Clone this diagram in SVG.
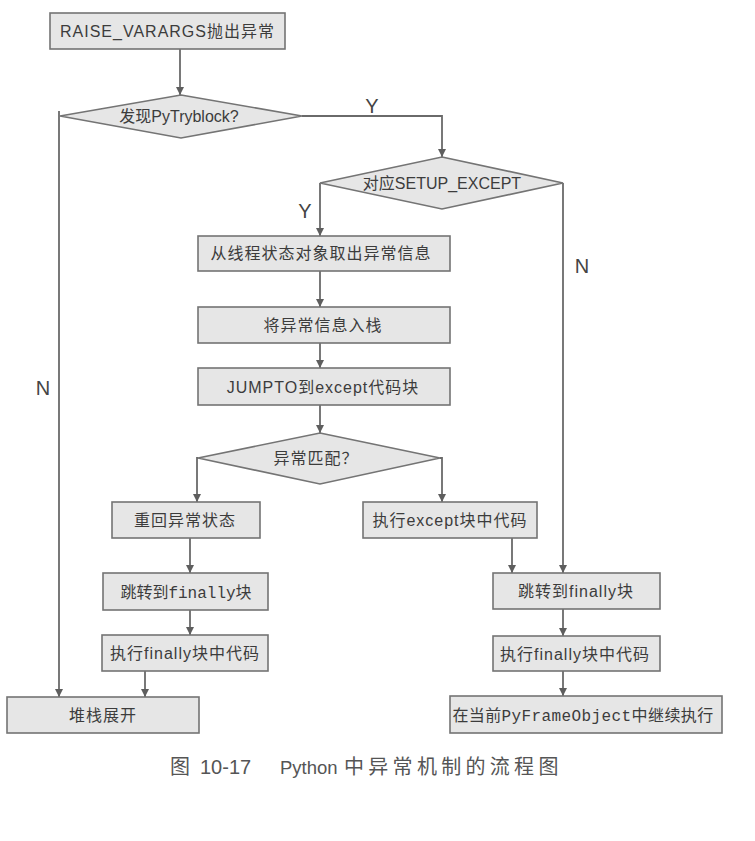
<svg xmlns="http://www.w3.org/2000/svg" width="755" height="841" viewBox="0 0 755 841">
<defs>
<style>
.box{fill:#e6e6e6;stroke:#747474;stroke-width:1.6}
.t{font-family:"Liberation Sans","Noto Sans CJK SC",sans-serif;font-size:16px;fill:#3c3c3c;text-anchor:middle;letter-spacing:1px}
.m{font-family:"Liberation Mono","Noto Sans CJK SC",monospace}
.lbl{font-family:"Liberation Sans",sans-serif;font-size:20px;fill:#444;text-anchor:middle}
.cap{font-family:"Liberation Sans","Noto Sans CJK SC",sans-serif;font-size:20px;fill:#555}
.e{fill:none;stroke:#6a6a6a;stroke-width:1.8;marker-end:url(#ah)}
</style>
<marker id="ah" viewBox="0 0 10 10" refX="10" refY="5" markerWidth="8" markerHeight="8" markerUnits="userSpaceOnUse" orient="auto">
<path d="M0,0 L10,5 L0,10 z" fill="#5e5e5e"/>
</marker>
</defs>
<rect width="755" height="841" fill="#ffffff"/>
<g id="edges">
<path class="e" d="M180,49 V95"/>
<path class="e" d="M302,116 H442 V157"/>
<path class="e" d="M59,111 V697"/>
<path class="e" d="M320,183 V236"/>
<path class="e" d="M563,183 V573"/>
<path class="e" d="M320,271 V307"/>
<path class="e" d="M320,343 V368"/>
<path class="e" d="M320,405 V433"/>
<path class="e" d="M198,458 H197 V502"/>
<path class="e" d="M440,458 H442 V502"/>
<path class="e" d="M190,538 V573"/>
<path class="e" d="M190,610 V635"/>
<path class="e" d="M145,671 V697"/>
<path class="e" d="M512,538 V573"/>
<path class="e" d="M563,609 V636"/>
<path class="e" d="M563,671 V696"/>
<text class="lbl" x="372" y="113">Y</text>
<text class="lbl" x="43" y="395">N</text>
<text class="lbl" x="305" y="218">Y</text>
<text class="lbl" x="582" y="273">N</text>
</g>
<g id="n_raise"><rect class="box" x="50" y="13" width="235" height="36"/><text class="t" x="167.5" y="37">RAISE_VARARGS抛出异常</text></g>
<g id="d_try"><polygon class="box" points="181,95 302,116 181,138 60,116"/><text class="t" x="179" y="122" style="letter-spacing:0">发现PyTryblock?</text></g>
<g id="d_setup"><polygon class="box" points="442,157 563,183 442,209 320,183"/><text class="t" x="442" y="189" style="letter-spacing:0">对应SETUP_EXCEPT</text></g>
<g id="n_fetch"><rect class="box" x="198" y="236" width="252" height="35"/><text class="t" x="321" y="259">从线程状态对象取出异常信息</text></g>
<g id="n_push"><rect class="box" x="198" y="307" width="252" height="36"/><text class="t" x="323" y="331">将异常信息入栈</text></g>
<g id="n_jump"><rect class="box" x="198" y="368" width="252" height="37"/><text class="t" x="323" y="392.5">JUMPTO到except代码块</text></g>
<g id="d_match"><polygon class="box" points="320,433 440,458 320,484 198,458"/><text class="t" x="316" y="464">异常匹配？</text></g>
<g id="n_reraise"><rect class="box" x="112" y="502" width="148" height="36"/><text class="t" x="185" y="526">重回异常状态</text></g>
<g id="n_exec_except"><rect class="box" x="363" y="502" width="174" height="36"/><text class="t" x="450" y="526">执行except块中代码</text></g>
<g id="n_fin_l"><rect class="box" x="103" y="573" width="165" height="37"/><text class="t" x="186" y="597.5" style="letter-spacing:0">跳转到<tspan class="m">finally</tspan>块</text></g>
<g id="n_execfin_l"><rect class="box" x="102" y="635" width="166" height="36"/><text class="t" x="185" y="659">执行finally块中代码</text></g>
<g id="n_unwind"><rect class="box" x="7" y="697" width="192" height="36"/><text class="t" x="103" y="721">堆栈展开</text></g>
<g id="n_fin_r"><rect class="box" x="493" y="573" width="167" height="36"/><text class="t" x="576" y="597">跳转到finally块</text></g>
<g id="n_execfin_r"><rect class="box" x="493" y="636" width="167" height="35"/><text class="t" x="575" y="659.5">执行finally块中代码</text></g>
<g id="n_continue"><rect class="box" x="450" y="696" width="272" height="37"/><text class="t" x="583" y="720.5" style="letter-spacing:0.4px">在当前<tspan class="m">PyFrameObject</tspan>中继续执行</text></g>
<g id="caption">
<text class="cap" x="170" y="774">图</text>
<text class="cap" x="200" y="774">10-17</text>
<text class="cap" x="280" y="774" style="font-size:18.5px">Python</text>
<text class="cap" x="344" y="774" style="letter-spacing:4.3px">中异常机制的流程图</text>
</g>
</svg>
